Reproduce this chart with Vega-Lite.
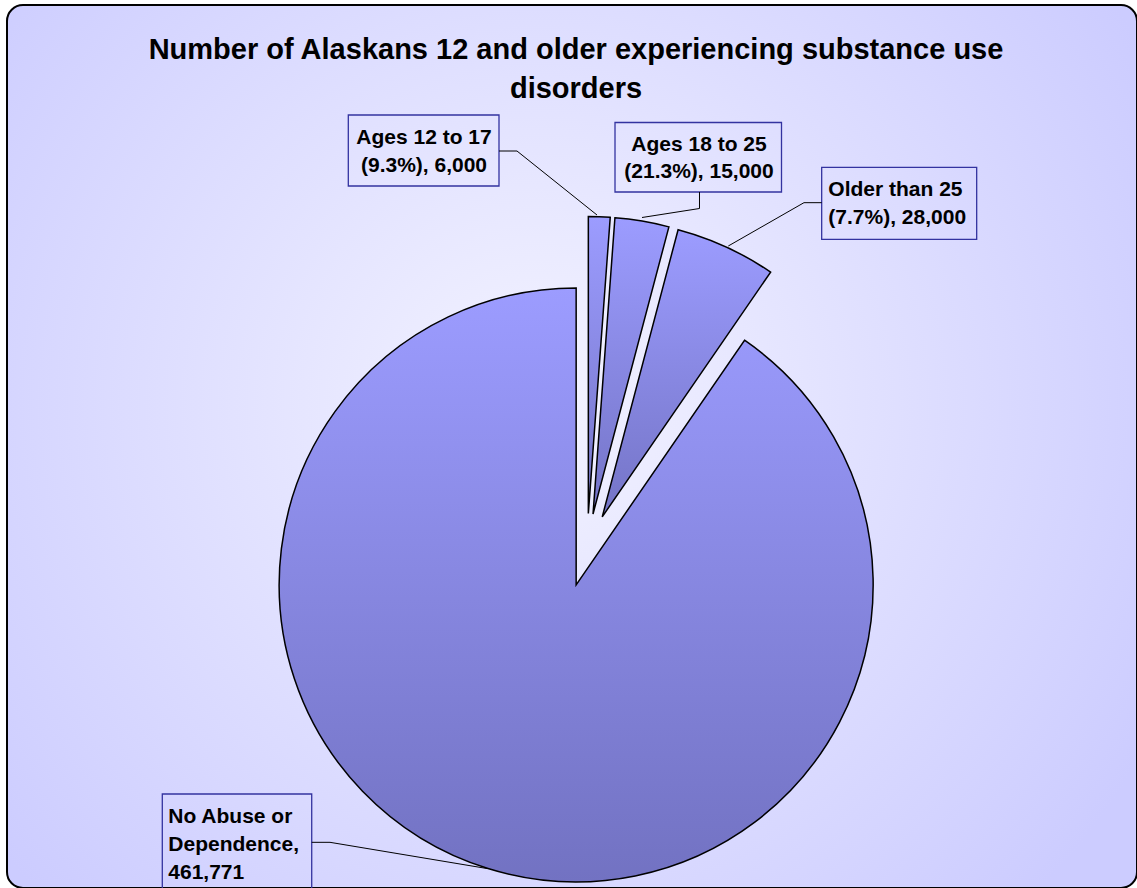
{
  "$schema": "https://vega.github.io/schema/vega-lite/v6.json",
  "width": 1130,
  "height": 883,
  "padding": {"left": 7, "top": 5, "right": 0, "bottom": 0},
  "autosize": {"type": "none"},
  "background": "#ffffff",
  "title": {
    "text": ["Number of Alaskans 12 and older experiencing substance use", "disorders"],
    "anchor": "middle",
    "baseline": "top",
    "offset": -99,
    "dx": 4,
    "fontSize": 29,
    "lineHeight": 39,
    "fontWeight": "bold",
    "font": "Liberation Sans",
    "color": "#000000"
  },
  "config": {
    "font": "Liberation Sans",
    "view": {
      "fill": {
        "gradient": "radial",
        "x1": 0.47, "y1": 0.46, "r1": 0,
        "x2": 0.47, "y2": 0.46, "r2": 0.62,
        "stops": [
          {"offset": 0, "color": "#f3f3ff"},
          {"offset": 1, "color": "#ccccff"}
        ]
      },
      "stroke": "#000000",
      "strokeWidth": 2,
      "cornerRadius": 16
    }
  },
  "data": {
    "values": [
      {"category": "Ages 12 to 17", "value": 6000, "label": "Ages 12 to 17\n(9.3%), 6,000"},
      {"category": "Ages 18 to 25", "value": 15000, "label": "Ages 18 to 25\n(21.3%), 15,000"},
      {"category": "Older than 25", "value": 28000, "label": "Older than 25\n(7.7%), 28,000"},
      {"category": "No Abuse or Dependence", "value": 461771, "label": "No Abuse or\nDependence,\n461,771"}
    ]
  },
  "transform": [
    {"stack": "value", "groupby": [], "offset": "normalize", "sort": [{"field": "value", "order": "ascending"}], "as": ["v0", "v1"]}
  ],
  "resolve": {"scale": {"theta": "shared", "x": "shared", "y": "shared"}},
  "layer": [
    {
      "transform": [{"filter": "datum.category === 'No Abuse or Dependence'"}],
      "mark": {"type": "arc", "radius": 297, "stroke": "#000000", "strokeWidth": 1.5,
        "fill": {"gradient": "linear", "x1": 0, "y1": 0, "x2": 0, "y2": 1, "stops": [{"offset": 0, "color": "#9c9cff"}, {"offset": 1, "color": "#7272c2"}]}},
      "encoding": {
        "theta": {"field": "v0", "type": "quantitative", "scale": {"domain": [0, 1], "zero": true}},
        "theta2": {"field": "v1"},
        "x": {"datum": -0.0365, "type": "quantitative", "scale": {"domain": [-1.9529, 1.8519], "nice": false, "zero": false}, "axis": null},
        "y": {"datum": -0.1174, "type": "quantitative", "scale": {"domain": [-1.138, 1.835], "nice": false, "zero": false}, "axis": null}
      }
    },
    {
      "transform": [{"filter": "datum.category === 'Ages 12 to 17'"}],
      "mark": {"type": "arc", "radius": 297, "stroke": "#000000", "strokeWidth": 1.5,
        "fill": {"gradient": "linear", "x1": 0, "y1": 0, "x2": 0, "y2": 1, "stops": [{"offset": 0, "color": "#9c9cff"}, {"offset": 1, "color": "#7474c6"}]}},
      "encoding": {
        "theta": {"field": "v0", "type": "quantitative", "scale": {"domain": [0, 1], "zero": true}},
        "theta2": {"field": "v1"},
        "x": {"datum": 0.0045, "type": "quantitative", "scale": {"domain": [-1.9529, 1.8519], "nice": false, "zero": false}, "axis": null},
        "y": {"datum": 0.1228, "type": "quantitative", "scale": {"domain": [-1.138, 1.835], "nice": false, "zero": false}, "axis": null}
      }
    },
    {
      "transform": [{"filter": "datum.category === 'Ages 18 to 25'"}],
      "mark": {"type": "arc", "radius": 297, "stroke": "#000000", "strokeWidth": 1.5,
        "fill": {"gradient": "linear", "x1": 0, "y1": 0, "x2": 0, "y2": 1, "stops": [{"offset": 0, "color": "#9c9cff"}, {"offset": 1, "color": "#7474c6"}]}},
      "encoding": {
        "theta": {"field": "v0", "type": "quantitative", "scale": {"domain": [0, 1], "zero": true}},
        "theta2": {"field": "v1"},
        "x": {"datum": 0.0203, "type": "quantitative", "scale": {"domain": [-1.9529, 1.8519], "nice": false, "zero": false}, "axis": null},
        "y": {"datum": 0.1212, "type": "quantitative", "scale": {"domain": [-1.138, 1.835], "nice": false, "zero": false}, "axis": null}
      }
    },
    {
      "transform": [{"filter": "datum.category === 'Older than 25'"}],
      "mark": {"type": "arc", "radius": 297, "stroke": "#000000", "strokeWidth": 1.5,
        "fill": {"gradient": "linear", "x1": 0, "y1": 0, "x2": 0, "y2": 1, "stops": [{"offset": 0, "color": "#9c9cff"}, {"offset": 1, "color": "#7474c6"}]}},
      "encoding": {
        "theta": {"field": "v0", "type": "quantitative", "scale": {"domain": [0, 1], "zero": true}},
        "theta2": {"field": "v1"},
        "x": {"datum": 0.0513, "type": "quantitative", "scale": {"domain": [-1.9529, 1.8519], "nice": false, "zero": false}, "axis": null},
        "y": {"datum": 0.1117, "type": "quantitative", "scale": {"domain": [-1.138, 1.835], "nice": false, "zero": false}, "axis": null}
      }
    },
    {
      "transform": [{"filter": "datum.category === 'Ages 12 to 17'"}],
      "mark": {"type": "rect", "fill": null, "stroke": "#3333a0", "strokeWidth": 1.3},
      "encoding": {
        "x": {"datum": -0.8037, "type": "quantitative", "scale": {"domain": [-1.9529, 1.8519], "nice": false, "zero": false}, "axis": null},
        "x2": {"datum": -0.2963},
        "y": {"datum": 1.4646, "type": "quantitative", "scale": {"domain": [-1.138, 1.835], "nice": false, "zero": false}, "axis": null},
        "y2": {"datum": 1.2256}
      }
    },
    {
      "transform": [{"filter": "datum.category === 'Ages 18 to 25'"}],
      "mark": {"type": "rect", "fill": null, "stroke": "#3333a0", "strokeWidth": 1.3},
      "encoding": {
        "x": {"datum": 0.0943, "type": "quantitative", "scale": {"domain": [-1.9529, 1.8519], "nice": false, "zero": false}, "axis": null},
        "x2": {"datum": 0.6549},
        "y": {"datum": 1.4394, "type": "quantitative", "scale": {"domain": [-1.138, 1.835], "nice": false, "zero": false}, "axis": null},
        "y2": {"datum": 1.2054}
      }
    },
    {
      "transform": [{"filter": "datum.category === 'Older than 25'"}],
      "mark": {"type": "rect", "fill": null, "stroke": "#3333a0", "strokeWidth": 1.3},
      "encoding": {
        "x": {"datum": 0.7902, "type": "quantitative", "scale": {"domain": [-1.9529, 1.8519], "nice": false, "zero": false}, "axis": null},
        "x2": {"datum": 1.3121},
        "y": {"datum": 1.2886, "type": "quantitative", "scale": {"domain": [-1.138, 1.835], "nice": false, "zero": false}, "axis": null},
        "y2": {"datum": 1.0461}
      }
    },
    {
      "transform": [{"filter": "datum.category === 'No Abuse or Dependence'"}],
      "mark": {"type": "rect", "fill": null, "stroke": "#3333a0", "strokeWidth": 1.3},
      "encoding": {
        "x": {"datum": -1.43, "type": "quantitative", "scale": {"domain": [-1.9529, 1.8519], "nice": false, "zero": false}, "axis": null},
        "x2": {"datum": -0.9269},
        "y": {"datum": -0.8215, "type": "quantitative", "scale": {"domain": [-1.138, 1.835], "nice": false, "zero": false}, "axis": null},
        "y2": {"datum": -1.1785}
      }
    },
    {
      "transform": [{"filter": "datum.category === 'Ages 12 to 17'"}],
      "mark": {"type": "rule", "stroke": "#000000", "strokeWidth": 1},
      "encoding": {
        "x": {"datum": -0.2963, "type": "quantitative", "scale": {"domain": [-1.9529, 1.8519], "nice": false, "zero": false}, "axis": null},
        "x2": {"datum": -0.2357},
        "y": {"datum": 1.3434, "type": "quantitative", "scale": {"domain": [-1.138, 1.835], "nice": false, "zero": false}, "axis": null},
        "y2": {"datum": 1.3434}
      }
    },
    {
      "transform": [{"filter": "datum.category === 'Ages 12 to 17'"}],
      "mark": {"type": "rule", "stroke": "#000000", "strokeWidth": 1},
      "encoding": {
        "x": {"datum": -0.2357, "type": "quantitative", "scale": {"domain": [-1.9529, 1.8519], "nice": false, "zero": false}, "axis": null},
        "x2": {"datum": 0.0337},
        "y": {"datum": 1.3434, "type": "quantitative", "scale": {"domain": [-1.138, 1.835], "nice": false, "zero": false}, "axis": null},
        "y2": {"datum": 1.1279}
      }
    },
    {
      "transform": [{"filter": "datum.category === 'Ages 18 to 25'"}],
      "mark": {"type": "rule", "stroke": "#000000", "strokeWidth": 1},
      "encoding": {
        "x": {"datum": 0.3788, "type": "quantitative", "scale": {"domain": [-1.9529, 1.8519], "nice": false, "zero": false}, "axis": null},
        "x2": {"datum": 0.3788},
        "y": {"datum": 1.2054, "type": "quantitative", "scale": {"domain": [-1.138, 1.835], "nice": false, "zero": false}, "axis": null},
        "y2": {"datum": 1.1498}
      }
    },
    {
      "transform": [{"filter": "datum.category === 'Ages 18 to 25'"}],
      "mark": {"type": "rule", "stroke": "#000000", "strokeWidth": 1},
      "encoding": {
        "x": {"datum": 0.3788, "type": "quantitative", "scale": {"domain": [-1.9529, 1.8519], "nice": false, "zero": false}, "axis": null},
        "x2": {"datum": 0.1852},
        "y": {"datum": 1.1498, "type": "quantitative", "scale": {"domain": [-1.138, 1.835], "nice": false, "zero": false}, "axis": null},
        "y2": {"datum": 1.1195}
      }
    },
    {
      "transform": [{"filter": "datum.category === 'Older than 25'"}],
      "mark": {"type": "rule", "stroke": "#000000", "strokeWidth": 1},
      "encoding": {
        "x": {"datum": 0.7902, "type": "quantitative", "scale": {"domain": [-1.9529, 1.8519], "nice": false, "zero": false}, "axis": null},
        "x2": {"datum": 0.7306},
        "y": {"datum": 1.1694, "type": "quantitative", "scale": {"domain": [-1.138, 1.835], "nice": false, "zero": false}, "axis": null},
        "y2": {"datum": 1.1694}
      }
    },
    {
      "transform": [{"filter": "datum.category === 'Older than 25'"}],
      "mark": {"type": "rule", "stroke": "#000000", "strokeWidth": 1},
      "encoding": {
        "x": {"datum": 0.7306, "type": "quantitative", "scale": {"domain": [-1.9529, 1.8519], "nice": false, "zero": false}, "axis": null},
        "x2": {"datum": 0.4758},
        "y": {"datum": 1.1694, "type": "quantitative", "scale": {"domain": [-1.138, 1.835], "nice": false, "zero": false}, "axis": null},
        "y2": {"datum": 1.0236}
      }
    },
    {
      "transform": [{"filter": "datum.category === 'No Abuse or Dependence'"}],
      "mark": {"type": "rule", "stroke": "#000000", "strokeWidth": 1},
      "encoding": {
        "x": {"datum": -0.9269, "type": "quantitative", "scale": {"domain": [-1.9529, 1.8519], "nice": false, "zero": false}, "axis": null},
        "x2": {"datum": -0.8653},
        "y": {"datum": -0.9842, "type": "quantitative", "scale": {"domain": [-1.138, 1.835], "nice": false, "zero": false}, "axis": null},
        "y2": {"datum": -0.9842}
      }
    },
    {
      "transform": [{"filter": "datum.category === 'No Abuse or Dependence'"}],
      "mark": {"type": "rule", "stroke": "#000000", "strokeWidth": 1},
      "encoding": {
        "x": {"datum": -0.8653, "type": "quantitative", "scale": {"domain": [-1.9529, 1.8519], "nice": false, "zero": false}, "axis": null},
        "x2": {"datum": -0.3367},
        "y": {"datum": -0.9842, "type": "quantitative", "scale": {"domain": [-1.138, 1.835], "nice": false, "zero": false}, "axis": null},
        "y2": {"datum": -1.0724}
      }
    },
    {
      "transform": [{"filter": "datum.category === 'Ages 12 to 17'"}],
      "mark": {"type": "text", "align": "center", "baseline": "alphabetic", "lineBreak": "\n", "lineHeight": 28.5, "fontSize": 21, "fontWeight": "bold", "color": "#000000"},
      "encoding": {
        "text": {"field": "label"},
        "x": {"datum": -0.5488, "type": "quantitative", "scale": {"domain": [-1.9529, 1.8519], "nice": false, "zero": false}, "axis": null},
        "y": {"datum": 1.367, "type": "quantitative", "scale": {"domain": [-1.138, 1.835], "nice": false, "zero": false}, "axis": null}
      }
    },
    {
      "transform": [{"filter": "datum.category === 'Ages 18 to 25'"}],
      "mark": {"type": "text", "align": "center", "baseline": "alphabetic", "lineBreak": "\n", "lineHeight": 27, "fontSize": 21, "fontWeight": "bold", "color": "#000000"},
      "encoding": {
        "text": {"field": "label"},
        "x": {"datum": 0.3771, "type": "quantitative", "scale": {"domain": [-1.9529, 1.8519], "nice": false, "zero": false}, "axis": null},
        "y": {"datum": 1.3418, "type": "quantitative", "scale": {"domain": [-1.138, 1.835], "nice": false, "zero": false}, "axis": null}
      }
    },
    {
      "transform": [{"filter": "datum.category === 'Older than 25'"}],
      "mark": {"type": "text", "align": "left", "baseline": "alphabetic", "lineBreak": "\n", "lineHeight": 28, "fontSize": 21, "fontWeight": "bold", "color": "#000000"},
      "encoding": {
        "text": {"field": "label"},
        "x": {"datum": 0.8125, "type": "quantitative", "scale": {"domain": [-1.9529, 1.8519], "nice": false, "zero": false}, "axis": null},
        "y": {"datum": 1.1919, "type": "quantitative", "scale": {"domain": [-1.138, 1.835], "nice": false, "zero": false}, "axis": null}
      }
    },
    {
      "transform": [{"filter": "datum.category === 'No Abuse or Dependence'"}],
      "mark": {"type": "text", "align": "left", "baseline": "alphabetic", "lineBreak": "\n", "lineHeight": 28, "fontSize": 21, "fontWeight": "bold", "color": "#000000"},
      "encoding": {
        "text": {"field": "label"},
        "x": {"datum": -1.4098, "type": "quantitative", "scale": {"domain": [-1.9529, 1.8519], "nice": false, "zero": false}, "axis": null},
        "y": {"datum": -0.9192, "type": "quantitative", "scale": {"domain": [-1.138, 1.835], "nice": false, "zero": false}, "axis": null}
      }
    }
  ]
}
